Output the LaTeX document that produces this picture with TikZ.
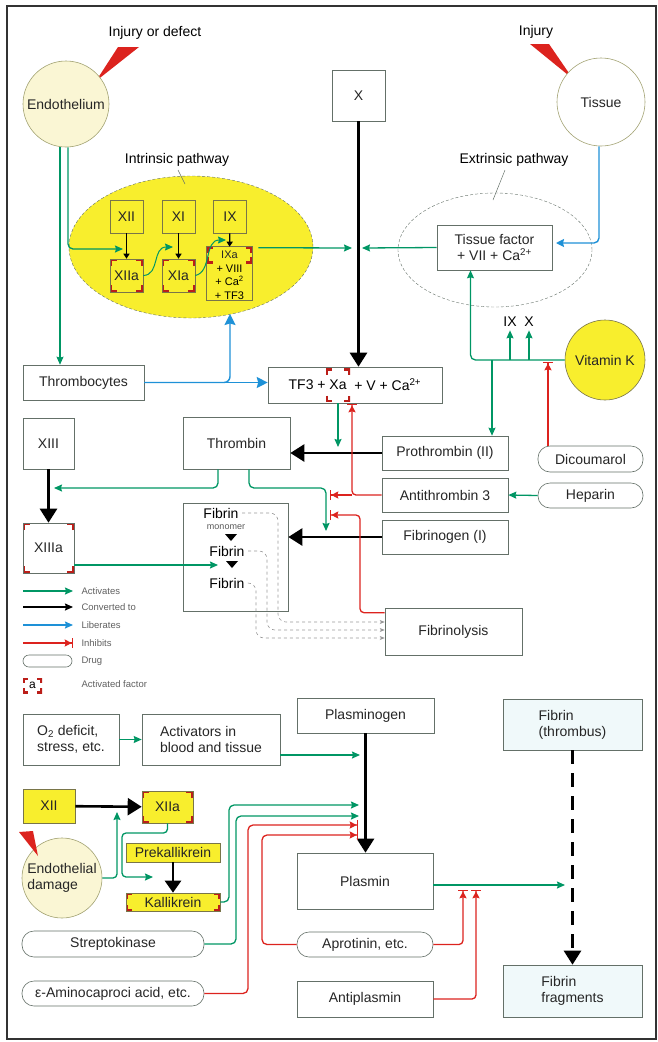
\documentclass[tikz,border=0pt]{standalone}
\usepackage{fontspec}
\setmainfont{Liberation Sans}
\usetikzlibrary{arrows.meta,shapes.geometric,positioning}

\definecolor{grn}{RGB}{0,150,100}
\definecolor{blu}{RGB}{30,145,215}
\definecolor{rd}{RGB}{220,35,30}
\definecolor{yel}{RGB}{248,238,45}
\definecolor{pale}{RGB}{250,246,212}
\definecolor{boxc}{RGB}{100,112,104}
\definecolor{tint}{RGB}{240,249,250}

% red corner marks of an activated factor
\newcommand{\redcorners}[1]{%
  \draw[rd!85!black,line width=4pt]
  ([yshift=-#1]path picture bounding box.north west) -- (path picture bounding box.north west) -- ([xshift=#1]path picture bounding box.north west)
  ([yshift=-#1]path picture bounding box.north east) -- (path picture bounding box.north east) -- ([xshift=-#1]path picture bounding box.north east)
  ([yshift=#1]path picture bounding box.south west) -- (path picture bounding box.south west) -- ([xshift=#1]path picture bounding box.south west)
  ([yshift=#1]path picture bounding box.south east) -- (path picture bounding box.south east) -- ([xshift=-#1]path picture bounding box.south east);}

\begin{document}
\begin{tikzpicture}[x=1pt,y=-1pt,font=\fontsize{14}{16}\selectfont,
    box/.style={draw=boxc,line width=0.6pt,fill=white,inner sep=1pt,align=center,text=black!85},
    ybox/.style={box,draw=yellow!40!black,fill=yel},
    drug/.style={box,rounded corners=12pt},
    circ/.style={circle,draw=yellow!30!boxc,line width=0.6pt,inner sep=0pt,align=center,text=black!85},
    actv/.style={path picture={\redcorners{#1}}},actv/.default=7pt,
    head/.style={-{Stealth[length=8pt,width=7pt,inset=1pt]}},
    act/.style={draw=grn,line width=1.3pt,head},
    lib/.style={draw=blu,line width=1.4pt,-{Stealth[length=11pt,width=11pt,inset=1.5pt]}},
    conv/.style={draw=black,line width=2.6pt,-{Triangle[length=14pt,width=17pt]}},
    sconv/.style={draw=black,line width=1.2pt,-{Triangle[length=5pt,width=6pt]}},
    inh/.style={draw=rd,line width=1.3pt,-{Stealth[length=7pt,width=7pt,inset=1pt]Bar[width=10pt,line width=1.3pt]}},
    fdash/.style={draw=gray!80,line width=0.6pt,dashed,-{Stealth[length=5pt,width=4pt]}},
    lgd/.style={anchor=west,text=gray!75!black,font=\fontsize{9.5}{11}\selectfont}]
\useasboundingbox (0,0) rectangle (658,1042);
\draw[line width=1.6pt,black!80] (7,6) rectangle (656,1039);

%% ---- upper part: coagulation ----
\node[ellipse,draw=boxc,densely dashed,line width=0.4pt,fill=yel,minimum width=244pt,minimum height=142pt] (intr) at (191,247) {};
\node[ellipse,draw=boxc,densely dashed,line width=0.4pt,minimum width=194pt,minimum height=114pt] (extr) at (495,250) {};

\node (injd) at (155,33) {Injury or defect};
\node (inj) at (536,32) {Injury};
\fill[rd] (118,47) -- (139,47) -- (96,81) -- cycle;
\fill[rd] (530,44) -- (549,44) -- (573,79) -- cycle;
\node[circ,fill=pale,minimum size=86pt] (endo) at (66,104) {Endothelium};
\node[circ,fill=white,minimum size=88pt] (tiss) at (601,102) {Tissue};
\node[box,minimum width=53pt,minimum height=51pt] (xbox) at (358.5,95.5) {X};

\node (intl) at (177,160) {Intrinsic pathway};
\node (extl) at (514,160) {Extrinsic pathway};
\coordinate (jil) at (185,184);
\coordinate (jel) at (493,200);
\draw[boxc,line width=0.5pt] ([xshift=1pt]intl.south) -- (jil);
\draw[boxc,line width=0.5pt] ([xshift=-9pt]extl.south) -- (jel);

\node[ybox,minimum size=33pt] (xii) at (126.5,216.5) {XII};
\node[ybox,minimum size=33pt] (xi) at (178.5,216.5) {XI};
\node[ybox,minimum size=33pt] (ix) at (230,216.5) {IX};
\node[ybox,actv,minimum size=33pt] (xiia) at (126.5,275.5) {XIIa};
\node[ybox,actv,minimum size=33pt] (xia) at (178.5,275.5) {XIa};
\node[ybox,actv=6pt,draw=none,minimum width=45pt,minimum height=16pt,font=\fontsize{11}{13}\selectfont] (ixa) at (229.5,255) {IXa};
\node[below=0pt of ixa,inner sep=1pt,align=center,font=\fontsize{11}{13.5}\selectfont] (ixb) {+ VIII\\+ Ca\textsuperscript{2}\\+ TF3};
\draw[yellow!40!black,line width=0.5pt] (ixa.north west) rectangle (ixa.east |- ixb.south);

\node[box,minimum width=115pt,minimum height=45pt] (tisf) at (494.5,247.5) {Tissue factor\\+ VII + Ca\textsuperscript{2+}};
\node[circ,draw=yellow!40!black,fill=yel,minimum size=80pt] (vitk) at (605,360) {Vitamin K};
\node (ixl) at (510,322) {IX};
\node (xl) at (529,322) {X};

\node[box,minimum width=121pt,minimum height=35pt] (thr) at (83.5,382.5) {Thrombocytes};
\node[box,minimum width=174pt,minimum height=36pt] (tf3) at (355,385) {};
\node[actv=6pt,minimum width=24pt,minimum height=33pt,inner sep=0pt] (xa) at (338,385) {Xa};
\node[left=0pt of xa,inner sep=0pt] (tfl) {TF3 +\ };
\node[right=0pt of xa,inner sep=0pt] (tfr) {\ + V + Ca\textsuperscript{2+}};

\node[box,minimum width=51pt,minimum height=51pt] (xiii) at (48.5,443.5) {XIII};
\node[box,actv,minimum width=51pt,minimum height=50pt] (xiiia) at (48.5,548) {XIIIa};
\node[box,minimum width=107pt,minimum height=52pt] (thromb) at (236.5,443) {Thrombin};
\node[box,minimum width=126pt,minimum height=34pt] (proth) at (445,453) {Prothrombin (II)};
\node[box,minimum width=126pt,minimum height=34pt] (anti) at (445,495) {Antithrombin 3};
\node[box,minimum width=126pt,minimum height=34pt] (fibg) at (445,537) {Fibrinogen (I)};
\node[drug,minimum width=105pt,minimum height=26pt] (dic) at (590.5,459) {Dicoumarol};
\node[drug,minimum width=105pt,minimum height=25pt] (hep) at (590.5,495.5) {Heparin};

\node[box,minimum width=105pt,minimum height=108pt] (fibbox) at (235.5,557) {};
\node (fib1) at (221,513) {Fibrin};
\node[text=gray!70!black,font=\fontsize{9}{10}\selectfont] (mono) at (226,527) {monomer};
\node (fib2) at (227,551) {Fibrin};
\node (fib3) at (227,583) {Fibrin};
\fill (225,534) -- (237,534) -- (231,541) -- cycle;
\fill (226,561) -- (238,561) -- (232,568) -- cycle;
\node[box,minimum width=137pt,minimum height=47pt] (fibl) at (453.5,631.5) {Fibrinolysis};

% connectors, upper part
\coordinate (jc0) at (123,249);
\coordinate (jc1) at (173,247);
\coordinate (jc2) at (226,240);
\coordinate (jx) at (352,248);
\coordinate (jt) at (362,248);
\coordinate (jt1) at (556,243);
\coordinate (jup) at (230,314);
\coordinate (vkp) at (492,360);
\coordinate (vki) at (548,362);
\coordinate (jtg1) at (338,403);
\coordinate (jtg2) at (338,447);
\coordinate (jat) at (352,404);
\coordinate (jat2) at (330,495);
\coordinate (jx13) at (54,488);
\coordinate (jfg1) at (326,488);
\coordinate (jfg2) at (326,531);
\coordinate (jf2) at (218,565);
\coordinate (jfl1) at (360,515);
\coordinate (jfl2) at (330,515);

\draw[act] ([xshift=-6pt]endo.south) -- ([xshift=-6pt]endo.south |- thr.north);
\draw[act,rounded corners=5pt] ([xshift=2pt]endo.south) |- (jc0);
\draw[sconv] (xii) -- (xiia);
\draw[sconv] (xi) -- (xia);
\draw[sconv] (ix) -- (ixa);
\draw[act,line width=1pt] (xiia.east) .. controls (160,275) and (152,247) .. (jc1);
\draw[act,line width=1pt] (xia.east) .. controls (212,272) and (204,240) .. (jc2);
\draw[act] ([xshift=6pt,yshift=-1pt]ixa.north east) -- (jx);
\draw[act] (tisf.west) -- (jt);
\draw[lib,-{Stealth[length=8pt,width=8pt,inset=1pt]},rounded corners=5pt] ([xshift=-2pt]tiss.south) |- (jt1);
\draw[conv] (xbox.south) -- (xbox.south |- tf3.north);
\draw[lib] (thr.east) -- (thr.east -| tf3.west);
\draw[lib,rounded corners=6pt] (thr.east) -| (jup);
\draw[act,rounded corners=5pt] (vitk.west) -| ([xshift=-24pt]tisf.south);
\draw[act] (vitk.west -| ixl) -- (ixl.south);
\draw[act] (vitk.west -| xl) -- (xl.south);
\draw[act] (vkp) -- (vkp |- proth.north);
\draw[inh] (dic.north -| vki) -- (vki);
\draw[act] (hep.west) -- (anti.east);
\draw[conv] (proth.west) -- (proth.west -| thromb.east);
\draw[act] (jtg1) -- (jtg2);
\draw[inh,rounded corners=4pt] (anti.west) -| (jat);
\draw[inh] (anti.west -| jat) -- (jat2);
\draw[act,rounded corners=5pt] ([xshift=-18.5pt]thromb.south) |- (jx13);
\draw[act,rounded corners=5pt] ([xshift=12.5pt]thromb.south) |- (jfg1) -- (jfg2);
\draw[conv] (fibg.west) -- (fibg.west -| fibbox.east);
\draw[conv] (xiii) -- (xiiia);
\draw[act] (xiiia.east |- jf2) -- (jf2);
\draw[inh,rounded corners=4pt] ([yshift=-5pt]fibl.north west) -| (jfl1) -- (jfl2);
\draw[fdash,rounded corners=8pt] (fib1.east) -- (278,513) -- (278,622) -- (fibl.west |- 0,622);
\draw[fdash,rounded corners=8pt] (fib2.east) -- (267,551) -- (267,630) -- (fibl.west |- 0,630);
\draw[fdash,rounded corners=8pt] (fib3.east) -- (256,583) -- (256,638) -- (fibl.west |- 0,638);

% legend
\node[lgd] (lga) at (78,591) {Activates};
\node[lgd] (lgc) at (78,607) {Converted to};
\node[lgd] (lgl) at (78,625) {Liberates};
\node[lgd] (lgi) at (78,643) {Inhibits};
\node[lgd] (lgdt) at (78,661) {Drug};
\node[lgd] (lgft) at (78,684) {Activated factor};
\draw[act] ([xshift=-55pt]lga.west) -- ([xshift=-5pt]lga.west);
\draw[black,line width=1.3pt,head] ([xshift=-55pt]lgc.west) -- ([xshift=-5pt]lgc.west);
\draw[blu,line width=1.3pt,head] ([xshift=-55pt]lgl.west) -- ([xshift=-5pt]lgl.west);
\draw[inh] ([xshift=-55pt]lgi.west) -- ([xshift=-5pt]lgi.west);
\node[drug,rounded corners=6pt,minimum width=49pt,minimum height=12pt] (lgd1) at (47.5,661) {};
\node[actv=5pt,minimum width=19pt,minimum height=15pt,inner sep=0pt,font=\fontsize{12}{13}\selectfont] (lgf) at (32.5,685.5) {a};

%% ---- lower part: fibrinolysis ----
\node[box,align=left,minimum width=96pt,minimum height=51pt] (o2) at (71,739.5) {O\textsubscript{2} deficit,\\stress, etc.};
\node[box,align=left,minimum width=138pt,minimum height=51pt] (actr) at (211,739.5) {Activators in\\blood and tissue};
\node[box,minimum width=137pt,minimum height=35pt] (plg) at (365.5,715.5) {Plasminogen};
\node[box,fill=tint,align=left,minimum width=139pt,minimum height=51pt] (fthr) at (572.5,724.5) {Fibrin\\(thrombus)};
\node[ybox,minimum width=52pt,minimum height=34pt] (xii2) at (49,806) {XII};
\node[ybox,actv,minimum width=51pt,minimum height=32pt] (xiia2) at (167.5,807) {XIIa};
\node[circ,fill=pale,align=left,minimum size=80pt] (endd) at (62,878) {Endothelial\\damage};
\fill[rd] (19,832) -- (33,831) -- (38,856) -- cycle;
\node[ybox,minimum width=94pt,minimum height=19pt] (prek) at (173,852.5) {Prekallikrein};
\node[ybox,actv=6pt,minimum width=94pt,minimum height=18pt] (kall) at (173,902) {Kallikrein};
\node[drug,minimum width=182pt,minimum height=26pt] (strep) at (113,944) {Streptokinase};
\node[drug,minimum width=182pt,minimum height=25pt] (eps) at (113,993.5) {ε-Aminocaproci acid, etc.};
\node[box,minimum width=136pt,minimum height=56pt] (plm) at (365,881) {Plasmin};
\node[drug,minimum width=136pt,minimum height=25pt] (apro) at (365,944.5) {Aprotinin, etc.};
\node[box,minimum width=136pt,minimum height=36pt] (aplas) at (365,999) {Antiplasmin};
\node[box,fill=tint,align=left,minimum width=139pt,minimum height=52pt] (ffrag) at (572.5,991) {Fibrin\\fragments};

% connectors, lower part
\coordinate (jpl1) at (360,755);
\coordinate (jed) at (117,812);
\coordinate (jq1) at (122,833);
\coordinate (jq2) at (153,877);
\coordinate (jk1) at (229,805);
\coordinate (jk2) at (359,805);
\coordinate (js1) at (236,816);
\coordinate (js2) at (359,816);
\coordinate (je1) at (248,825);
\coordinate (je2) at (358,825);
\coordinate (ja1) at (262,835);
\coordinate (ja2) at (358,835);
\coordinate (jp) at (565,885);
\coordinate (jap) at (463,890);
\coordinate (jas) at (476,890);

\draw[act] (o2) -- (actr);
\draw[act] (actr.east |- jpl1) -- (jpl1);
\draw[conv] (plg.south) -- (plg.south |- plm.north);
\draw[conv] (xii2) -- (xiia2);
\draw[act,rounded corners=4pt] (endd.east) -| (jed);
\draw[act,rounded corners=4pt] (xiia2.south) |- (jq1) |- (jq2);
\draw[conv,-{Triangle[length=12pt,width=16pt]}] (prek) -- (kall);
\draw[act,rounded corners=5pt] (kall.east) -| (jk1) -- (jk2);
\draw[act,rounded corners=5pt] (strep.east) -| (js1) -- (js2);
\draw[inh,rounded corners=5pt] (eps.east) -| (je1) -- (je2);
\draw[inh,rounded corners=5pt] (apro.west) -| (ja1) -- (ja2);
\draw[act] (plm.east |- jp) -- (jp);
\draw[inh,rounded corners=4pt] (apro.east) -| (jap);
\draw[inh,rounded corners=4pt] (aplas.east) -| (jas);
\draw[conv,dash pattern=on 14pt off 9pt] (fthr.south) -- (ffrag.north);
\end{tikzpicture}
\end{document}
